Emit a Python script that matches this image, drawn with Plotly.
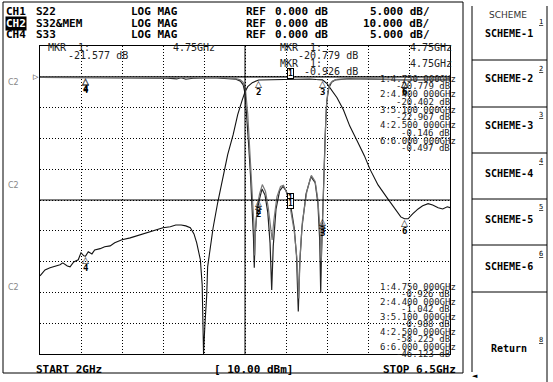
import numpy as np
import plotly.graph_objects as go

# ---------------- data ----------------
# CH2 : S32 (LOG MAG, ref 0 dB, 10 dB/div)
s32_f = [2.00, 2.055, 2.11, 2.165, 2.22, 2.25, 2.30, 2.33, 2.37, 2.42, 2.45, 2.48, 2.50, 2.53, 2.57,
         2.60, 2.66, 2.71, 2.77, 2.82, 2.90, 2.99, 3.10, 3.21, 3.30, 3.35, 3.43, 3.49, 3.55, 3.60,
         3.65, 3.69, 3.72, 3.76, 3.78, 3.795, 3.81, 3.83, 3.84, 3.87, 3.90, 3.95, 4.01, 4.06, 4.12,
         4.17, 4.22, 4.25, 4.28, 4.33, 4.40, 4.47, 4.58, 4.75, 4.85, 4.96, 5.03, 5.10, 5.15, 5.20,
         5.26, 5.33, 5.40, 5.48, 5.56, 5.62, 5.71, 5.81, 5.90, 5.96, 6.00, 6.04, 6.09, 6.15, 6.20,
         6.26, 6.31, 6.37, 6.42, 6.47, 6.50]
s32_db = [-64.6, -62.7, -62.0, -61.4, -61.0, -60.4, -61.4, -61.7, -60.1, -59.4, -57.1, -58.1, -58.2,
          -56.8, -57.5, -56.2, -55.8, -55.2, -54.9, -53.9, -52.9, -52.3, -51.3, -50.3, -49.4, -49.0,
          -48.7, -48.1, -48.1, -48.4, -49.0, -51.0, -53.9, -59.4, -67.5, -90.0, -80.5, -70.8, -61.7,
          -54.5, -49.0, -40.9, -32.8, -25.3, -18.8, -12.3, -7.5, -4.9, -3.2, -1.9, -1.04, -1.0, -0.8,
          -0.93, -0.85, -0.7, -0.9, -0.99, -2.2, -4.2, -6.8, -10.7, -16.0, -20.8, -25.6, -29.9, -35.1,
          -39.3, -43.2, -45.5, -46.1, -46.1, -44.5, -42.9, -41.9, -41.2, -41.6, -42.5, -42.9, -42.2,
          -42.5]
# CH2 memory trace
mem_f = [2.0, 6.5]
mem_db = [0.0, 0.0]

# CH1 : S22 (LOG MAG, ref 0 dB, 5 dB/div)
s22_f = [2.00, 2.20, 2.50, 2.80, 3.10, 3.40, 3.50, 3.55, 3.60, 3.70, 3.90, 4.05, 4.15, 4.20, 4.23,
         4.25, 4.27, 4.29, 4.31, 4.33, 4.343, 4.352, 4.36, 4.38, 4.40, 4.437, 4.47, 4.50, 4.525,
         4.543, 4.56, 4.59, 4.63, 4.667, 4.70, 4.75, 4.79, 4.815, 4.835, 4.85, 4.875, 4.92, 4.974,
         5.02, 5.05, 5.07, 5.081, 5.09, 5.10, 5.115, 5.13, 5.147, 5.17, 5.20, 5.24, 5.40, 5.80,
         6.00, 6.30, 6.50]
s22_db = [-0.10, -0.12, -0.15, -0.13, -0.15, -0.20, -0.35, -0.15, -0.40, -0.20, -0.15, -0.25, -0.40,
          -0.70, -1.30, -2.6, -6.2, -11.0, -15.9, -21.0, -26.0, -31.0, -26.0, -22.0, -20.4, -18.2,
          -19.2, -22.0, -27.0, -34.6, -27.5, -21.5, -18.5, -17.8, -18.5, -20.8, -24.5, -29.0, -38.1,
          -30.5, -24.5, -19.0, -16.2, -17.2, -20.5, -26.5, -35.1, -28.5, -23.0, -16.0, -9.5, -4.0,
          -1.8, -0.9, -0.5, -0.3, -0.4, -0.5, -0.45, -0.5]

# CH4 : S33 (LOG MAG, ref 0 dB, 5 dB/div)
s33_f = [2.00, 2.50, 3.00, 3.50, 4.00, 4.15, 4.20, 4.23, 4.255, 4.28, 4.30, 4.32, 4.34, 4.352,
         4.357, 4.365, 4.385, 4.41, 4.44, 4.475, 4.505, 4.53, 4.548, 4.565, 4.60, 4.64, 4.672,
         4.71, 4.75, 4.79, 4.82, 4.840, 4.855, 4.88, 4.93, 4.978, 5.02, 5.05, 5.072, 5.087, 5.097,
         5.11, 5.125, 5.14, 5.158, 5.18, 5.21, 5.26, 5.50, 6.00, 6.50]
s33_db = [-0.05, -0.10, -0.10, -0.15, -0.15, -0.30, -0.50, -0.90, -2.0, -6.0, -11.0, -16.0, -21.0,
          -25.0, -29.0, -25.0, -21.0, -19.0, -17.5, -18.6, -21.2, -24.5, -26.5, -23.5, -19.5, -17.8,
          -17.6, -18.8, -21.58, -25.0, -29.5, -36.0, -29.0, -23.5, -18.5, -16.0, -17.0, -20.0, -24.5,
          -30.0, -25.0, -18.0, -11.0, -5.5, -2.5, -1.2, -0.7, -0.4, -0.3, -0.45, -0.4]

# markers
mk_id = [1, 2, 3, 4, 6]
mk_f = [4.75, 4.40, 5.10, 2.50, 6.00]
mk_ch1 = [-20.779, -20.402, -22.967, -0.146, -0.497]
mk_ch2 = [-0.926, -1.042, -0.988, -58.225, -46.123]
mk_ch4_1 = -21.577

# display settings
f_start, f_stop = 2.0, 6.5
ch2_scale, ch1_scale, ch4_scale = 10.0, 5.0, 5.0
ref_val = 0.0
n_div_x, n_div_y = 10, 10
ref_pos_div = 9  # reference line position (divisions from bottom)

header = [("CH1", "S22", "LOG MAG", "REF", "0.000 dB", "5.000 dB/"),
          ("CH2", "S32&MEM", "LOG MAG", "REF", "0.000 dB", "10.000 dB/"),
          ("CH4", "S33", "LOG MAG", "REF", "0.000 dB", "5.000 dB/")]
softkeys = ["SCHEME-1", "SCHEME-2", "SCHEME-3", "SCHEME-4", "SCHEME-5", "SCHEME-6"]

# ---------------- layout geometry (pixels) ----------------
W, H = 553, 382
L, R, T, B = 40, 450, 46, 354
MONO = "DejaVu Sans Mono"


def px(x):
    return (x - L) / (R - L)


def py(y):
    return (B - y) / (B - T)


def yrange(scale):
    top = ref_val + (n_div_y - ref_pos_div) * scale
    return [top - n_div_y * scale, top]


ann = []
shapes = []


def txt(x, y, s, size=11, bold=True, xa="left", color="#000", family=MONO, bg=None, ya="middle"):
    s = s.replace(" ", "\u00a0")
    d = dict(xref="paper", yref="paper", x=px(x), y=py(y), text=f"<b>{s}</b>" if bold else s,
             showarrow=False, xanchor=xa, yanchor=ya, borderpad=0,
             font=dict(family=family, size=size, color=color))
    if bg:
        d["bgcolor"] = bg
    ann.append(d)


def line(x0, y0, x1, y1, color="#000", width=1):
    shapes.append(dict(type="line", xref="paper", yref="paper", x0=px(x0), y0=py(y0),
                       x1=px(x1), y1=py(y1), line=dict(color=color, width=width)))


fig = go.Figure()
fig.add_trace(go.Scatter(x=mem_f, y=mem_db, mode="lines", line=dict(color="#000", width=1.2), yaxis="y"))
fig.add_trace(go.Scatter(x=s33_f, y=s33_db, mode="lines", line=dict(color="#777", width=1.2), yaxis="y3"))
fig.add_trace(go.Scatter(x=s22_f, y=s22_db, mode="lines", line=dict(color="#222", width=1.2), yaxis="y2"))
fig.add_trace(go.Scatter(x=s32_f, y=s32_db, mode="lines", line=dict(color="#111", width=1.1), yaxis="y"))


# marker glyphs
def put_marker(f, v, mid, yref):
    if mid == 1:
        ann.append(dict(xref="x", yref=yref, x=f, y=v, text="<b>1</b>", showarrow=False,
                        yshift=6, borderwidth=1, bordercolor="#000", borderpad=0, bgcolor="#fff",
                        font=dict(family=MONO, size=8, color="#000")))
    else:
        ann.append(dict(xref="x", yref=yref, x=f, y=v, text="△", showarrow=False, yshift=-4,
                        font=dict(family="DejaVu Sans", size=9, color="#000")))
        ann.append(dict(xref="x", yref=yref, x=f, y=v, text=f"<b>{mid}</b>", showarrow=False,
                        yshift=-12, font=dict(family=MONO, size=9, color="#000")))


for i, f in enumerate(mk_f):
    put_marker(f, mk_ch2[i], mk_id[i], "y")
    put_marker(f, mk_ch1[i], mk_id[i], "y2")
    v4 = mk_ch4_1 if mk_id[i] == 1 else float(np.interp(f, s33_f, s33_db))
    put_marker(f, v4, mk_id[i], "y3")

grid_common = dict(showgrid=True, gridcolor="#000", gridwidth=1, griddash="1px,2px",
                   showticklabels=False, ticks="", zeroline=False,
                   showline=True, mirror=True, linecolor="#000", linewidth=1)
fig.update_layout(
    width=W, height=H, margin=dict(l=L, r=W - R, t=T, b=H - B),
    paper_bgcolor="#fff", plot_bgcolor="#fff", showlegend=False,
    xaxis=dict(range=[f_start, f_stop], tick0=f_start, dtick=(f_stop - f_start) / n_div_x, **grid_common),
    yaxis=dict(range=yrange(ch2_scale), tick0=yrange(ch2_scale)[0], dtick=ch2_scale, **grid_common),
    yaxis2=dict(range=yrange(ch1_scale), overlaying="y", visible=False),
    yaxis3=dict(range=yrange(ch4_scale), overlaying="y", visible=False),
)

# centre solid lines
xc = (f_start + f_stop) / 2
yc = sum(yrange(ch2_scale)) / 2
shapes.append(dict(type="line", xref="x", yref="paper", x0=xc, x1=xc, y0=0, y1=1,
                   line=dict(color="#000", width=1)))
shapes.append(dict(type="line", xref="paper", yref="y", x0=0, x1=1, y0=yc, y1=yc,
                   line=dict(color="#000", width=1)))

# outer frame
shapes.append(dict(type="rect", xref="paper", yref="paper", x0=px(3), x1=px(463), y0=py(373), y1=py(2),
                   line=dict(color="#000", width=1)))

# header
rows_y = [11, 23, 35]
for (ch, par, fmt, ref, rv, sc), yy in zip(header, rows_y):
    if ch == "CH2":
        txt(5, yy, ch, bg="#000", color="#fff")
    else:
        txt(5, yy, ch)
    txt(35, yy, par)
    txt(130, yy, fmt)
    txt(245, yy, ref)
    txt(329, yy, rv, xa="right")
    txt(431, yy, sc, xa="right")

# marker readouts at top of grid
RC = "#222"
RS = 10
txt(47, 47, "MKR  1:", size=RS, bold=False, color=RC)
txt(216, 47, f"{mk_f[0]:.2f}GHz", size=RS, bold=False, color=RC, xa="right")
txt(129, 56, f"{mk_ch4_1:.3f} dB", size=RS, bold=False, color=RC, xa="right")
txt(279, 47, "MKR  1:", size=RS, bold=False, color=RC)
txt(453, 47, f"{mk_f[0]:.2f}GHz", size=RS, bold=False, color=RC, xa="right")
txt(359, 56, f"{mk_ch1[0]:.3f} dB", size=RS, bold=False, color=RC, xa="right")
txt(279, 63, "MKR  1:", size=RS, bold=False, color=RC)
txt(453, 63, f"{mk_f[0]:.2f}GHz", size=RS, bold=False, color=RC, xa="right")
txt(359, 71, f"{mk_ch2[0]:.3f} dB", size=RS, bold=False, color=RC, xa="right")


# marker lists
def ghz(f):
    s = f"{f:.6f}"
    return s[:-3] + " " + s[-3:] + "GHz"


LS = 9
for i in range(len(mk_f)):
    y1 = 79 + i * 15.4
    txt(457, y1, f"{mk_id[i]}:{ghz(mk_f[i])}", size=LS, bold=False, color=RC, xa="right")
    txt(451, y1 + 7.4, f"{mk_ch1[i]:.3f} dB", size=LS, bold=False, color=RC, xa="right")
    y2 = 287 + i * 14.9
    txt(457, y2, f"{mk_id[i]}:{ghz(mk_f[i])}", size=LS, bold=False, color=RC, xa="right")
    txt(451, y2 + 7.2, f"{mk_ch2[i]:.3f} dB", size=LS, bold=False, color=RC, xa="right")

# left labels
for yy in [83, 185, 287]:
    txt(7, yy, "C2", size=8, bold=False, color="#888", family="DejaVu Sans")
txt(40, 77, "▷", size=7, bold=False, xa="right", family="DejaVu Sans")

# bottom line
txt(35, 369, "START 2GHz")
txt(213, 369, "[ 10.00 dBm]")
txt(457, 369, "STOP 6.5GHz", xa="right")

# softkey panel
txt(508, 15, "SCHEME", size=9, bold=False, color="#333", family="DejaVu Sans", xa="center")
line(472, 6, 472, 372)
line(547, 6, 547, 382)
key_bottoms = [60, 107, 153, 199, 245, 292]
key_text_y = [33, 79, 126, 173, 219, 266]
for i, k in enumerate(softkeys):
    line(472, key_bottoms[i], 547, key_bottoms[i])
    txt(509, key_text_y[i], k, size=10, xa="center")
    txt(544, key_bottoms[i] - 38, f"<u>{i + 1}</u>", size=7, bold=False, xa="right")
txt(509, 348, "Return", size=10, xa="center")
txt(544, 340, "<u>8</u>", size=7, bold=False, xa="right")
txt(475, 376, "◄", size=7, bold=False, family="DejaVu Sans", xa="center")

fig.update_layout(annotations=ann, shapes=shapes)
fig.write_html("out.html", config={"displayModeBar": False},
               post_script="document.body.style.margin='0px';")
